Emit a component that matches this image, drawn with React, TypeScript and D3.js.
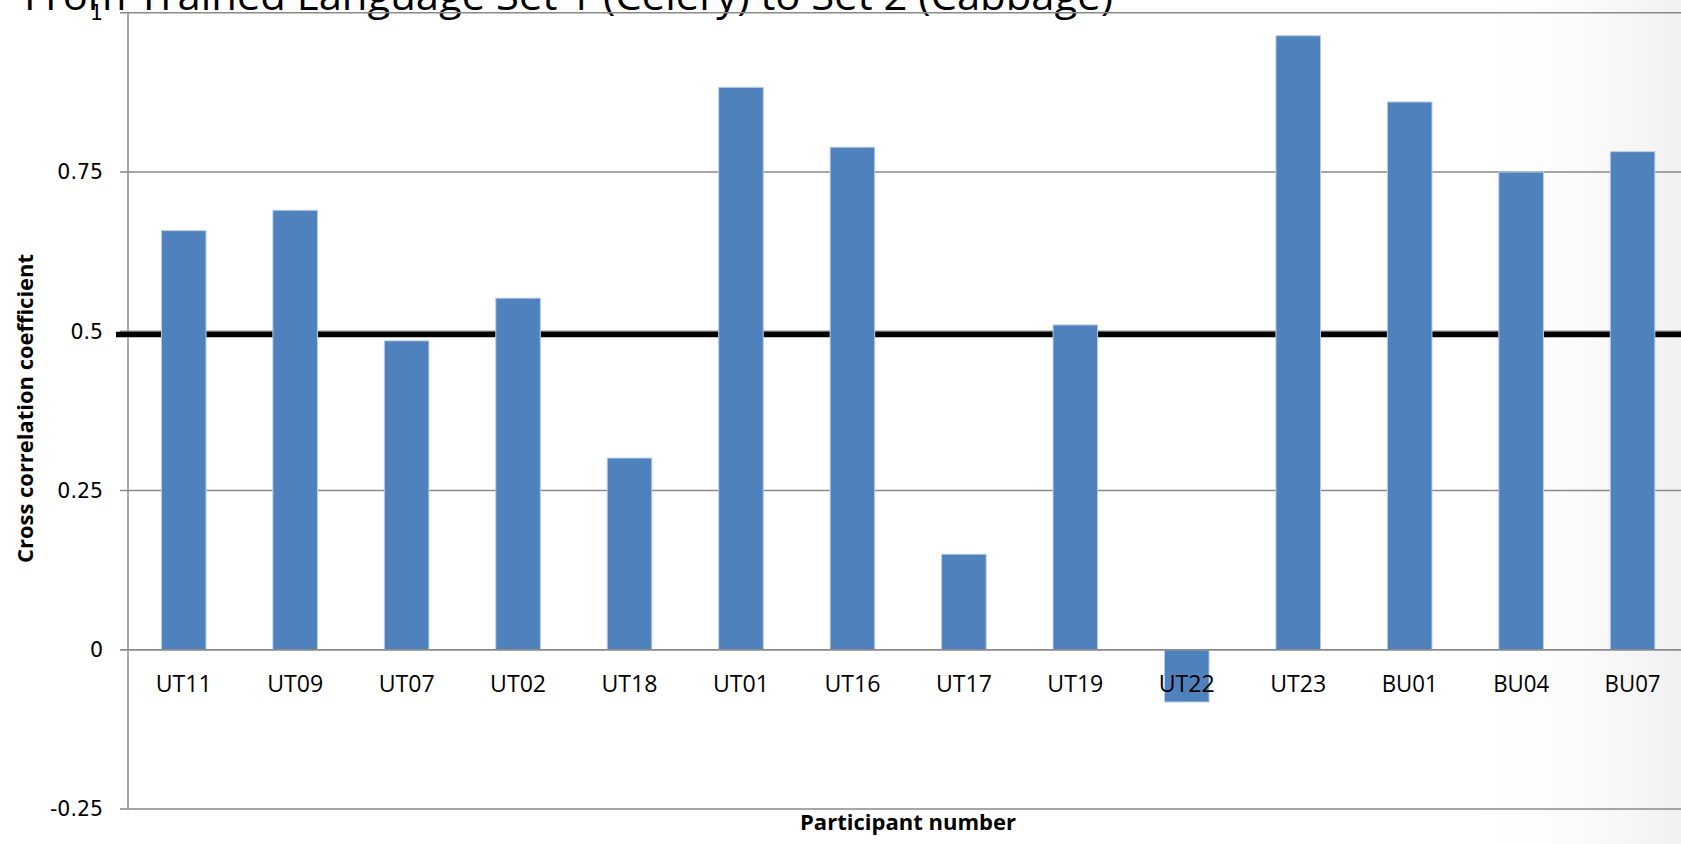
import React from "react";
import * as d3 from "d3";

const titleText = "From Trained Language Set 1 (Celery) to Set 2 (Cabbage)";
const yAxisTitle = "Cross correlation coefficient";
const xAxisTitle = "Participant number";

const participants = ["UT11", "UT09", "UT07", "UT02", "UT18", "UT01", "UT16", "UT17", "UT19", "UT22", "UT23", "BU01", "BU04", "BU07"];
const coefficients = [0.658, 0.69, 0.485, 0.552, 0.301, 0.883, 0.789, 0.15, 0.51, -0.082, 0.964, 0.86, 0.75, 0.782];
const yTicks = [-0.25, 0, 0.25, 0.5, 0.75, 1];
const yTickLabels = ["-0.25", "0", "0.25", "0.5", "0.75", "1"];
const thresholdValue = 0.495;

const W = 1681;
const H = 844;

export default function App() {
  const x = d3
    .scaleBand<string>()
    .domain(participants)
    .range([128, 128 + 14 * 111.45])
    .paddingInner(0.6)
    .paddingOuter(0.3);
  const y = d3.scaleLinear().domain([-0.25, 1]).range([809, 12.8]);
  const axisX = 128;
  const fontSans = "'Open Sans', 'DejaVu Sans', sans-serif";

  return (
    <svg
      width={W}
      height={H}
      style={{ position: "fixed", left: 0, top: 0, background: "#fff" }}
    >
      <defs>
        <linearGradient id="bgGrad" x1="0" x2="1" y1="0" y2="0">
          <stop offset="0" stopColor="#ffffff" />
          <stop offset="0.5" stopColor="#fbfbfb" />
          <stop offset="1" stopColor="#f1f1f1" />
        </linearGradient>
      </defs>
      <rect x={0} y={0} width={W} height={H} fill="#fff" />
      <rect x={1480} y={0} width={W - 1480} height={H} fill="url(#bgGrad)" />

      {/* title (cut off at top) */}
      <text
        x={24}
        y={10}
        fontFamily={fontSans}
        fontSize={40}
        fill="#000"
        textLength={1089}
        lengthAdjust="spacingAndGlyphs"
      >
        {titleText}
      </text>

      {/* gridlines */}
      {yTicks.map((t) => (
        <line
          key={"g" + t}
          x1={axisX - 8}
          x2={W}
          y1={y(t)}
          y2={y(t)}
          stroke="#8a8a8a"
          strokeWidth={1.5}
        />
      ))}

      {/* y axis line */}
      <line x1={axisX} x2={axisX} y1={y(1)} y2={y(-0.25)} stroke="#8a8a8a" strokeWidth={1.5} />

      {/* y tick labels */}
      {yTicks.map((t, i) => (
        <text
          key={"yl" + t}
          x={103}
          y={y(t)}
          dy="0.36em"
          textAnchor="end"
          fontFamily="'DejaVu Sans', sans-serif"
          fontSize={20.5}
          fill="#000"
        >
          {yTickLabels[i]}
        </text>
      ))}

      {/* threshold line */}
      <line
        x1={116}
        x2={W}
        y1={y(thresholdValue)}
        y2={y(thresholdValue)}
        stroke="#000"
        strokeWidth={5.5}
      />

      {/* bars */}
      {participants.map((p, i) => {
        const v = coefficients[i];
        const y0 = y(0);
        const yv = y(v);
        return (
          <rect
            key={"b" + p}
            x={x(p)}
            y={Math.min(y0, yv)}
            width={x.bandwidth()}
            height={Math.abs(yv - y0)}
            fill="#4f81bd"
            stroke="#b9cde6"
            strokeWidth={1}
          />
        );
      })}

      {/* x axis line at zero */}
      <line x1={axisX - 8} x2={W} y1={y(0)} y2={y(0)} stroke="#8a8a8a" strokeWidth={1.5} />

      {/* x tick labels */}
      {participants.map((p) => (
        <text
          key={"xl" + p}
          x={(x(p) as number) + x.bandwidth() / 2}
          y={692}
          textAnchor="middle"
          fontFamily={fontSans}
          fontSize={23}
          fill="#000"
          textLength={56}
          lengthAdjust="spacingAndGlyphs"
        >
          {p}
        </text>
      ))}

      {/* axis titles */}
      <text
        transform={`translate(33, 408.5) rotate(-90)`}
        textAnchor="middle"
        fontFamily={fontSans}
        fontWeight="bold"
        fontSize={21}
        fill="#000"
        textLength={309}
        lengthAdjust="spacingAndGlyphs"
      >
        {yAxisTitle}
      </text>
      <text
        x={908}
        y={830}
        textAnchor="middle"
        fontFamily={fontSans}
        fontWeight="bold"
        fontSize={21}
        fill="#000"
        textLength={216}
        lengthAdjust="spacingAndGlyphs"
      >
        {xAxisTitle}
      </text>
    </svg>
  );
}
